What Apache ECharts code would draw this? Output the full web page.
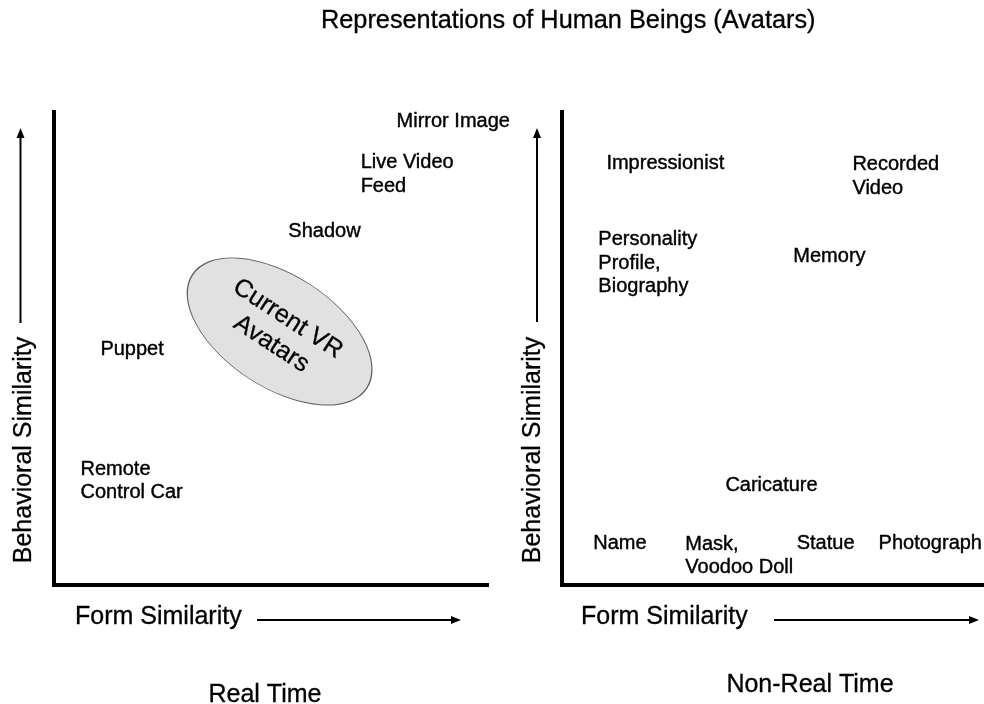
<!DOCTYPE html>
<html>
<head>
<meta charset="utf-8">
<script src="https://cdn.jsdelivr.net/npm/echarts@6/dist/echarts.min.js"></script>
<style>
html,body{margin:0;padding:0;background:#fff;}
#main{width:984px;height:704px;}
</style>
</head>
<body>
<div id="main"></div>
<script>
// ---- text content ----
const titleText = 'Representations of Human Beings (Avatars)';
const panelNames = ['Real Time', 'Non-Real Time'];
const xAxisName = 'Form Similarity';
const yAxisName = 'Behavioral Similarity';

// ---- Real-time panel (form similarity 0-100, behavioral similarity 0-100) ----
const realTimeLabels = ['Mirror Image', 'Live Video\nFeed', 'Shadow', 'Puppet', 'Remote\nControl Car'];
const realTimeForm = [79.0, 70.7, 54.0, 10.6, 6.0];
const realTimeBehavior = [98.1, 86.8, 74.8, 49.7, 22.0];

// highlighted region in real-time panel
const regionLabel = 'Current VR\nAvatars';
const regionForm = [52.1];
const regionBehavior = [53.6];

// ---- Non-real-time panel ----
const nonRealLabels = ['Impressionist', 'Recorded\nVideo', 'Personality\nProfile,\nBiography', 'Memory',
  'Caricature', 'Name', 'Mask,\nVoodoo Doll', 'Statue', 'Photograph'];
const nonRealForm = [10.4, 68.7, 8.5, 54.7, 38.6, 7.3, 29.1, 55.5, 74.9];
const nonRealBehavior = [89.2, 86.4, 68.0, 69.4, 21.1, 8.7, 6.1, 8.7, 8.7];

const FONT = '"Liberation Sans", Arial, sans-serif';

function makePoints(labels, xs, ys) {
  return labels.map((name, i) => ({ name: name, value: [xs[i], ys[i]] }));
}

function axisPair(gridIndex) {
  return {
    type: 'value', min: 0, max: 100, gridIndex: gridIndex,
    axisLine: { show: true, lineStyle: { color: '#000', width: 4, cap: 'square' } },
    axisTick: { show: false }, axisLabel: { show: false }, splitLine: { show: false }
  };
}

const labelStyle = {
  show: true, position: 'right', distance: 0, formatter: '{b}', opacity: 1,
  fontSize: 20, lineHeight: 23.5, color: '#000', fontFamily: FONT,
  textBorderColor: '#000', textBorderWidth: 0.4
};

const chart = echarts.init(document.getElementById('main'), null, { renderer: 'canvas' });

function arrowV(x, yBottom, yTip) {
  return [
    { type: 'line', shape: { x1: x, y1: yBottom, x2: x, y2: yTip + 8 }, style: { stroke: '#000', lineWidth: 2 } },
    { type: 'polygon', shape: { points: [[x, yTip], [x - 4, yTip + 10], [x + 4, yTip + 10]] }, style: { fill: '#000' } }
  ];
}
function arrowH(y, xStart, xTip) {
  return [
    { type: 'line', shape: { x1: xStart, y1: y, x2: xTip - 8, y2: y }, style: { stroke: '#000', lineWidth: 2 } },
    { type: 'polygon', shape: { points: [[xTip, y], [xTip - 10, y - 4], [xTip - 10, y + 4]] }, style: { fill: '#000' } }
  ];
}
function txt(text, x, y, align, rotation) {
  return {
    type: 'text', x: x, y: y, rotation: rotation || 0,
    style: { text: text, fontSize: 25, fontFamily: FONT, fill: '#000', align: align, verticalAlign: 'middle',
      stroke: '#000', lineWidth: 0.3 }
  };
}

const option = {
  animation: false,
  backgroundColor: '#fff',
  title: {
    text: titleText, left: 321, top: 8.5, padding: 0,
    textStyle: { fontSize: 25.3, fontWeight: 'normal', color: '#000', fontFamily: FONT,
      textBorderColor: '#000', textBorderWidth: 0.3 }
  },
  grid: [
    { left: 54, top: 112, width: 433, height: 473 },
    { left: 562, top: 112, width: 422, height: 473 }
  ],
  xAxis: [axisPair(0), axisPair(1)],
  yAxis: [axisPair(0), axisPair(1)],
  series: [
    {
      type: 'scatter', xAxisIndex: 0, yAxisIndex: 0, z: 1,
      symbol: 'circle', symbolSize: [208, 112], symbolRotate: -33,
      itemStyle: { color: '#d9d9d9', borderColor: '#3a3a3a', borderWidth: 1 },
      label: { show: true, position: 'inside', rotate: -33, formatter: '{b}', opacity: 1,
        fontSize: 25, lineHeight: 30, color: '#000', fontFamily: FONT,
        textBorderColor: '#000', textBorderWidth: 0.3 },
      data: makePoints([regionLabel], regionForm, regionBehavior)
    },
    {
      type: 'scatter', xAxisIndex: 0, yAxisIndex: 0, z: 2,
      symbolSize: 1, itemStyle: { color: 'rgba(0,0,0,0)' },
      label: labelStyle,
      data: makePoints(realTimeLabels, realTimeForm, realTimeBehavior)
    },
    {
      type: 'scatter', xAxisIndex: 1, yAxisIndex: 1, z: 2,
      symbolSize: 1, itemStyle: { color: 'rgba(0,0,0,0)' },
      label: labelStyle,
      data: makePoints(nonRealLabels, nonRealForm, nonRealBehavior)
    }
  ],
  graphic: [].concat(
    arrowV(20.5, 323, 128),
    arrowV(537, 322, 128),
    arrowH(620, 257, 461),
    arrowH(620, 774, 979),
    [
      txt(yAxisName, 24, 450, 'center', Math.PI / 2),
      txt(yAxisName, 533, 450, 'center', Math.PI / 2),
      txt(xAxisName, 75, 617, 'left'),
      txt(xAxisName, 581, 617, 'left'),
      txt(panelNames[0], 265, 695, 'center'),
      txt(panelNames[1], 810, 685, 'center')
    ]
  )
};
chart.setOption(option);
</script>
</body>
</html>
